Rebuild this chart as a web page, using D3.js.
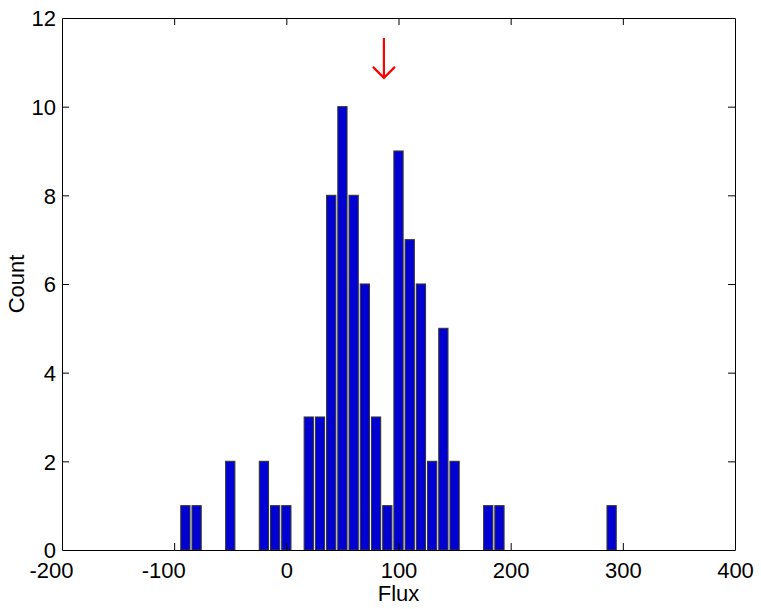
<!DOCTYPE html>
<html><head><meta charset="utf-8">
<script src="https://cdn.jsdelivr.net/npm/d3@7"></script>
<style>body{margin:0;background:#fff} text{font-family:"Liberation Sans",Arial,sans-serif;fill:#000}</style>
</head><body>
<svg id="c" width="761" height="609"></svg>
<script>
const binCenters = [-90,-80,-50,-20,-10,0,20,30,40,50,60,70,80,90,100,110,120,130,140,150,180,190,290];
const counts     = [1,1,2,2,1,1,3,3,8,10,8,6,3,1,9,7,6,2,5,2,1,1,1];
const xTicks = [-200,-100,0,100,200,300,400];
const yTicks = [0,2,4,6,8,10,12];
const arrowX = 87;
const arrowY = [11.55, 10.65];
const binWidth = 10;

const svg = d3.select("#c");
const L = 62, R = 735, T = 18, B = 550;
const x = d3.scaleLinear().domain([-200,400]).range([L,R]);
const y = d3.scaleLinear().domain([0,12]).range([B,T]);
const data = binCenters.map((c,i)=>({c, n:counts[i]}));

// bars
svg.append("g").selectAll("rect").data(data).join("rect")
  .attr("x", d=>x(d.c - binWidth*0.41))
  .attr("width", d=>x(d.c + binWidth*0.41) - x(d.c - binWidth*0.41))
  .attr("y", d=>y(d.n))
  .attr("height", d=>y(0)-y(d.n))
  .attr("fill", "#0000d2")
  .attr("stroke", "#353535")
  .attr("stroke-width", 1.1);

const tl = 7;
const fmt = d=>String(d);
const gx = svg.append("g").attr("transform",`translate(0,${B})`)
  .call(d3.axisBottom(x).tickValues(xTicks).tickSizeInner(-tl).tickSizeOuter(0).tickPadding(12).tickFormat(fmt));
const gxt = svg.append("g").attr("transform",`translate(0,${T})`)
  .call(d3.axisTop(x).tickValues(xTicks).tickSizeInner(-tl).tickSizeOuter(0).tickFormat(""));
const gy = svg.append("g").attr("transform",`translate(${L},0)`)
  .call(d3.axisLeft(y).tickValues(yTicks).tickSizeInner(-tl).tickSizeOuter(0).tickPadding(6).tickFormat(fmt));
const gyr = svg.append("g").attr("transform",`translate(${R},0)`)
  .call(d3.axisRight(y).tickValues(yTicks).tickSizeInner(-tl).tickSizeOuter(0).tickFormat(""));

[gx,gxt,gy,gyr].forEach(g=>{
  g.select(".domain").attr("stroke","#000").attr("stroke-width",1);
  g.selectAll(".tick line").attr("stroke","#000");
  g.selectAll("text").attr("font-size",22).attr("font-family","Liberation Sans, Arial, sans-serif").attr("fill","#000");
});
[gx,gxt].forEach(g=>g.selectAll(".tick line").filter(d=>d===-200||d===400).remove());
[gy,gyr].forEach(g=>g.selectAll(".tick line").filter(d=>d===0||d===12).remove());
gy.selectAll("text").attr("dy","0.36em");
gx.selectAll("text").attr("dy","0.71em").attr("dx", d=>d<0 ? -11 : 0);

// labels
svg.append("text").attr("x",(L+R)/2).attr("y",601).attr("text-anchor","middle").attr("font-size",22).text("Flux");
svg.append("text").attr("transform",`translate(24,${(T+B)/2}) rotate(-90)`).attr("text-anchor","middle").attr("font-size",22).text("Count");

// red arrow
const ax = x(arrowX), y1 = y(arrowY[0]), y2 = y(arrowY[1]);
const ag = svg.append("g").attr("stroke","#ff0000").attr("stroke-width",2.2).attr("fill","none");
ag.append("line").attr("x1",ax).attr("x2",ax).attr("y1",y1).attr("y2",y2);
ag.append("path").attr("d",`M${ax-11},${y2-11} L${ax},${y2} L${ax+11},${y2-11}`);
</script>
</body></html>
